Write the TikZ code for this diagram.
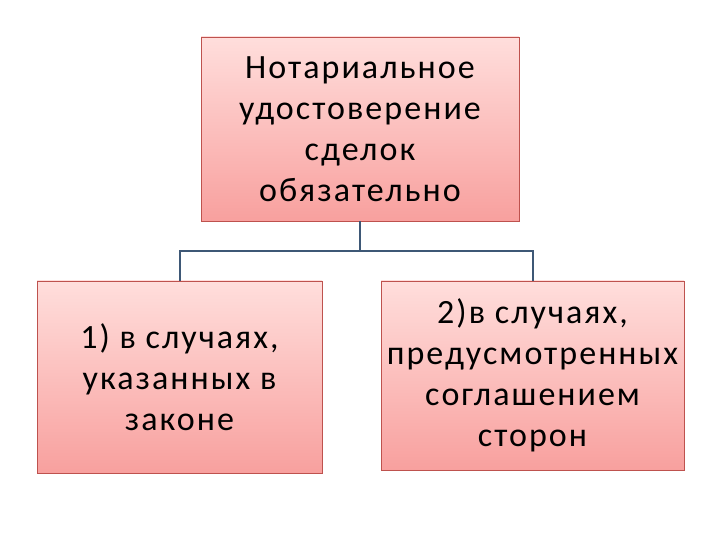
\documentclass[tikz,border=0pt]{standalone}
\usepackage{fontspec}
\setmainfont{Carlito}[LetterSpace=6]
\definecolor{boxtop}{RGB}{255,222,220}
\definecolor{boxbot}{RGB}{248,160,158}
\definecolor{boxline}{RGB}{190,82,78}
\definecolor{linkcol}{RGB}{62,88,118}
\tikzset{
  pinkbox/.style={draw=boxline, line width=0.8pt, top color=boxtop, bottom color=boxbot,
    align=center, inner sep=0pt, font=\fontsize{34}{41}\selectfont, text=black},
  link/.style={draw=linkcol, line width=2pt}
}
\begin{document}
\begin{tikzpicture}[x=1pt,y=1pt]
\useasboundingbox (0,0) rectangle (720,540);
\node[pinkbox, minimum width=318pt, minimum height=184pt] (top) at (360,411)
  {Нотариальное\\удостоверение\\сделок\\обязательно};
\node[pinkbox, minimum width=285pt, minimum height=192pt] (left) at (179.5,163)
  {1) в случаях,\\указанных в\\законе};
\node[pinkbox, minimum width=303pt, minimum height=189pt] (right) at (532.5,164.5)
  {2)в случаях,\\предусмотренных\\соглашением\\сторон};
\coordinate (bus) at (360,289);
\draw[link] (top.south) -- (bus) -| (left.north);
\draw[link] (bus) -| (right.north);
\end{tikzpicture}
\end{document}
